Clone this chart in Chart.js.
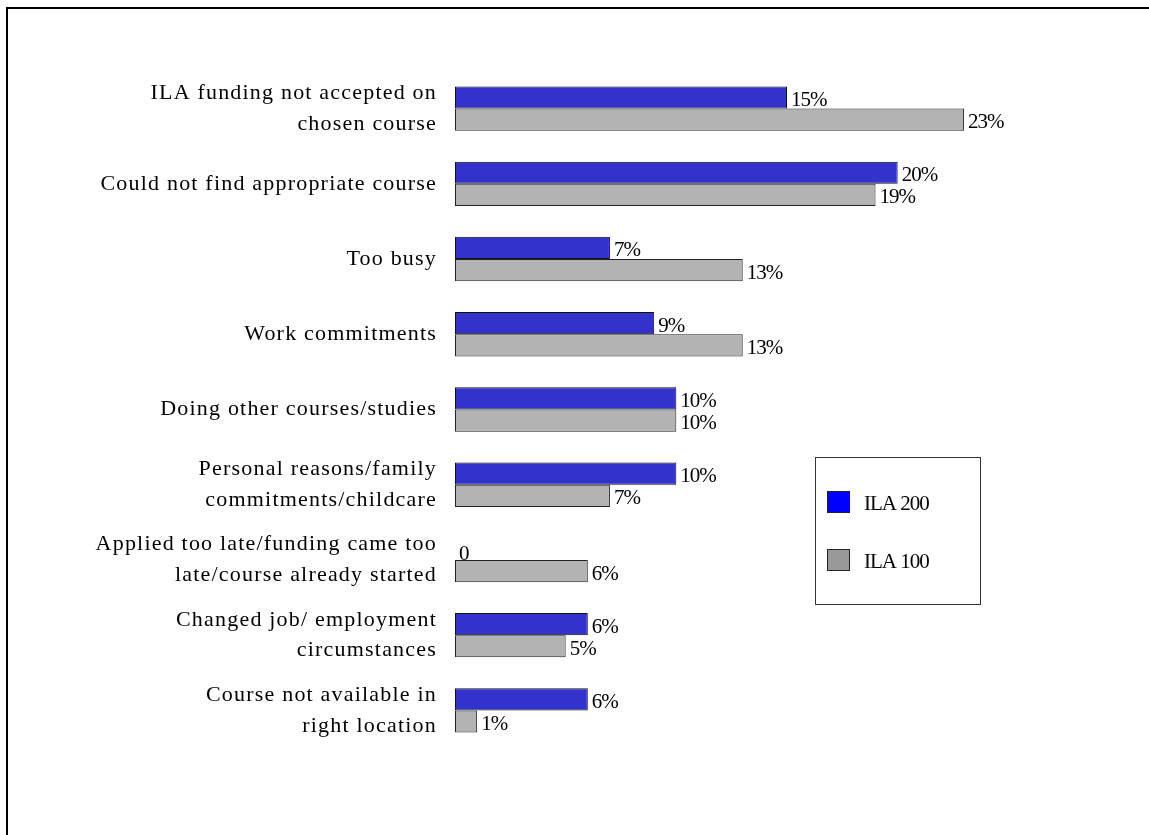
<!DOCTYPE html>
<html>
<head>
<meta charset="utf-8">
<script src="https://cdn.jsdelivr.net/npm/chart.js@4/dist/chart.umd.min.js"></script>
<style>
    html, body { margin: 0; padding: 0; background: #fff; overflow: hidden; }
    #wrap { position: relative; width: 1149px; height: 835px; }
    #frame { position: absolute; left: 6px; top: 7px; width: 2000px; height: 2000px; border: 2px solid #000; pointer-events: none; }
</style>
</head>
<body>
<div id="wrap">
    <canvas id="reasons" width="1149" height="835"></canvas>
    <div id="frame"></div>
</div>
<script>
const categories = [
    ['ILA funding not accepted on', 'chosen course'],
    'Could not find appropriate course',
    'Too busy',
    'Work commitments',
    'Doing other courses/studies',
    ['Personal reasons/family', 'commitments/childcare'],
    ['Applied too late/funding came too', 'late/course already started'],
    ['Changed job/ employment', 'circumstances'],
    ['Course not available in', 'right location']
];
const ila200 = [15, 20, 7, 9, 10, 10, 0, 6, 6];
const ila100 = [23, 19, 13, 13, 10, 7, 6, 5, 1];

const seriesNames = ['ILA 200', 'ILA 100'];
const barColours = ['#3333CC', '#B3B3B3'];
const keyColours = ['#0000FF', '#999999'];

const serif = "'Liberation Serif', 'Times New Roman', serif";

// wider letter spacing for the category text
const spacing = {
    id: 'spacing',
    beforeUpdate(chart) { chart.ctx.letterSpacing = '1.2px'; },
    beforeDraw(chart) { chart.ctx.letterSpacing = '1.2px'; },
    afterDatasetsDraw(chart) { chart.ctx.letterSpacing = '0px'; }
};

// value text at the end of each bar
const valueLabels = {
    id: 'valueLabels',
    afterDatasetsDraw(chart) {
        const ctx = chart.ctx;
        ctx.save();
        ctx.letterSpacing = '-1px';
        ctx.font = '21px ' + serif;
        ctx.fillStyle = '#000';
        ctx.textAlign = 'left';
        ctx.textBaseline = 'middle';
        chart.data.datasets.forEach((ds, i) => {
            chart.getDatasetMeta(i).data.forEach((bar, j) => {
                const v = ds.data[j];
                const txt = v === 0 ? '0' : v + '%';
                ctx.fillText(txt, bar.x + 4, bar.y + (v === 0 ? 6 : 3));
            });
        });
        ctx.restore();
    }
};

// boxed key on the right
const keyBox = {
    id: 'keyBox',
    afterDraw(chart) {
        const ctx = chart.ctx;
        ctx.save();
        ctx.letterSpacing = '-1px';
        ctx.strokeStyle = '#333';
        ctx.lineWidth = 1;
        ctx.strokeRect(815.5, 457.5, 165, 147);
        const rows = [502, 560];
        chart.data.datasets.forEach((ds, i) => {
            ctx.fillStyle = keyColours[i];
            ctx.fillRect(827, rows[i] - 11, 23, 22);
            ctx.strokeStyle = '#222';
            ctx.strokeRect(827.5, rows[i] - 10.5, 22, 21);
            ctx.fillStyle = '#000';
            ctx.font = '21px ' + serif;
            ctx.textAlign = 'left';
            ctx.textBaseline = 'middle';
            ctx.fillText(ds.label, 864, rows[i] + 2);
        });
        ctx.restore();
    }
};

const ctx = document.getElementById('reasons').getContext('2d');
new Chart(ctx, {
    type: 'bar',
    data: {
        labels: categories,
        datasets: [
            { label: seriesNames[0], data: ila200, backgroundColor: barColours[0], borderColor: '#111', borderWidth: 1, borderSkipped: false },
            { label: seriesNames[1], data: ila100, backgroundColor: barColours[1], borderColor: '#222', borderWidth: 1, borderSkipped: false }
        ]
    },
    options: {
        indexAxis: 'y',
        responsive: false,
        animation: false,
        devicePixelRatio: 1,
        categoryPercentage: 0.59,
        barPercentage: 1,
        layout: { padding: { top: 71, bottom: 87, left: 0, right: 30 } },
        plugins: {
            legend: { display: false },
            tooltip: { enabled: false }
        },
        scales: {
            x: {
                display: false,
                min: 0,
                max: 30
            },
            y: {
                grid: { display: false, drawTicks: false },
                border: { display: false },
                ticks: {
                    padding: 18,
                    color: '#000',
                    font: { family: serif, size: 22, lineHeight: 1.4 }
                },
                afterFit(scale) { scale.width = 455; }
            }
        }
    },
    plugins: [spacing, valueLabels, keyBox]
});
</script>
</body>
</html>
